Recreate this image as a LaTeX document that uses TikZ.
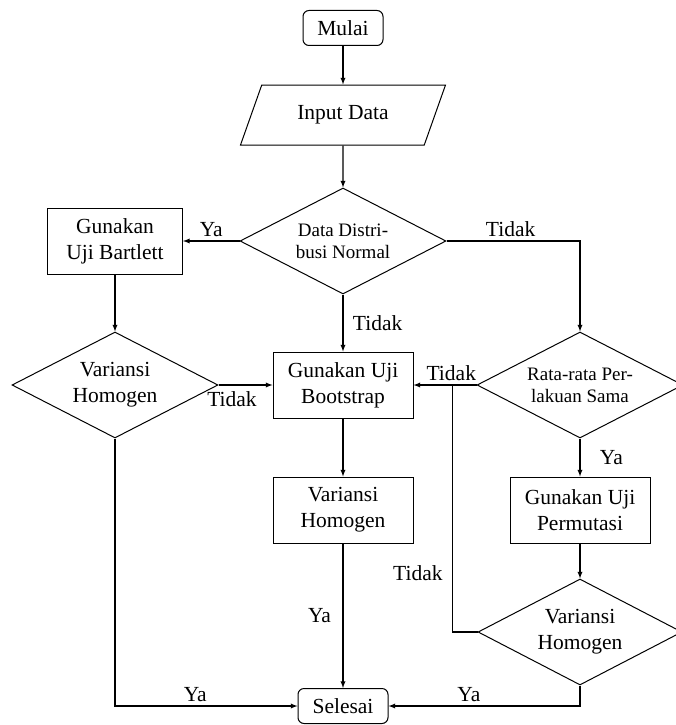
\documentclass[tikz,border=0pt]{standalone}
\usepackage{fontspec}
\setmainfont{Liberation Serif}
\usetikzlibrary{calc, shapes.geometric}

\begin{document}
\begin{tikzpicture}[node distance=1.5cm, auto, >=latex,
  txt/.style={font=\fontsize{21.5}{26}\selectfont},
  smalltxt/.style={font=\fontsize{19}{22}\selectfont},
  block/.style={rectangle, draw, line width=1pt, txt, align=center, minimum width=140pt, minimum height=66pt, inner sep=2pt},
  terminal/.style={rectangle, rounded corners=6pt, draw, line width=1pt, txt, minimum height=35pt, inner sep=2pt},
  decision/.style={diamond, draw, line width=1pt, align=center, aspect=2, inner sep=0pt, minimum width=206pt, minimum height=106pt},
  ioshape/.style={trapezium, trapezium left angle=50, trapezium right angle=130, trapezium stretches body, draw, line width=1pt, txt, minimum width=205pt, minimum height=60pt},
  flow/.style={->, line width=1.3pt}]
  \useasboundingbox (0,0) rectangle (676pt,-725pt);

  % main column
  \node (start) [terminal, minimum width=80pt] at (343pt,-28pt) {Mulai};
  \node (input) [ioshape, below of=start, node distance=87pt] {Input Data};
  \node (normal) [decision, smalltxt, below of=input, node distance=126pt] {Data Distri-\\busi Normal};
  \node (boot) [block, below of=normal, node distance=144pt] {Gunakan Uji\\Bootstrap};
  \node (varboot) [block, below of=boot, node distance=125pt] {Variansi\\Homogen};
  \node (stop) [terminal, minimum width=90pt, below of=varboot, node distance=196pt] {Selesai};

  % left column
  \node (bartlett) [block, minimum width=135pt, left of=normal, node distance=228pt] {Gunakan\\Uji Bartlett};
  \node (varbart) [decision, txt, below of=bartlett, node distance=144pt] {Variansi\\Homogen};

  % right column
  \node (mean) [decision, smalltxt, right of=boot, node distance=237pt] {Rata-rata Per-\\lakuan Sama};
  \node (perm) [block, below of=mean, node distance=125pt] {Gunakan Uji\\Permutasi};
  \node (varperm) [decision, txt, minimum width=204pt, below of=perm, node distance=122pt] {Variansi\\Homogen};
  \coordinate (join) at ($(boot.east)!0.62!(mean.west)$);

  \draw[flow] (start) -- (input);
  \draw[flow] (input) -- (normal);
  \draw[flow] (normal.west) -- node[above, txt] {Ya} (bartlett.east |- normal.west);
  \draw[flow] (normal.east) -| node[above, txt, pos=0.24] {Tidak} (mean.north);
  \draw[flow] (normal.south) -- node[right, txt, xshift=6pt] {Tidak} (boot.north);
  \draw[flow] (bartlett) -- (varbart);
  \draw[flow] (varbart.east) -- node[below, txt, pos=0.25, yshift=-3pt] {Tidak} (boot.west);
  \draw[flow] (mean.west) -- node[above, txt, pos=0.4] {Tidak} (boot.east);
  \draw[flow] (mean.south) -- node[right, txt, xshift=16pt] {Ya} (perm.north);
  \draw[flow] (perm) -- (varperm);
  \draw[line width=1.3pt] (varperm.west) -| node[left, txt, pos=0.62, xshift=-6pt] {Tidak} (join);
  \draw[flow] (boot) -- (varboot);
  \draw[flow] (varboot) -- node[left, txt, xshift=-8pt] {Ya} (stop);
  \draw[flow] (varbart.south) |- node[above, txt, pos=0.72] {Ya} (stop.west);
  \draw[flow] (varperm.south) |- node[above, txt, pos=0.79] {Ya} (stop.east);
\end{tikzpicture}
\end{document}
